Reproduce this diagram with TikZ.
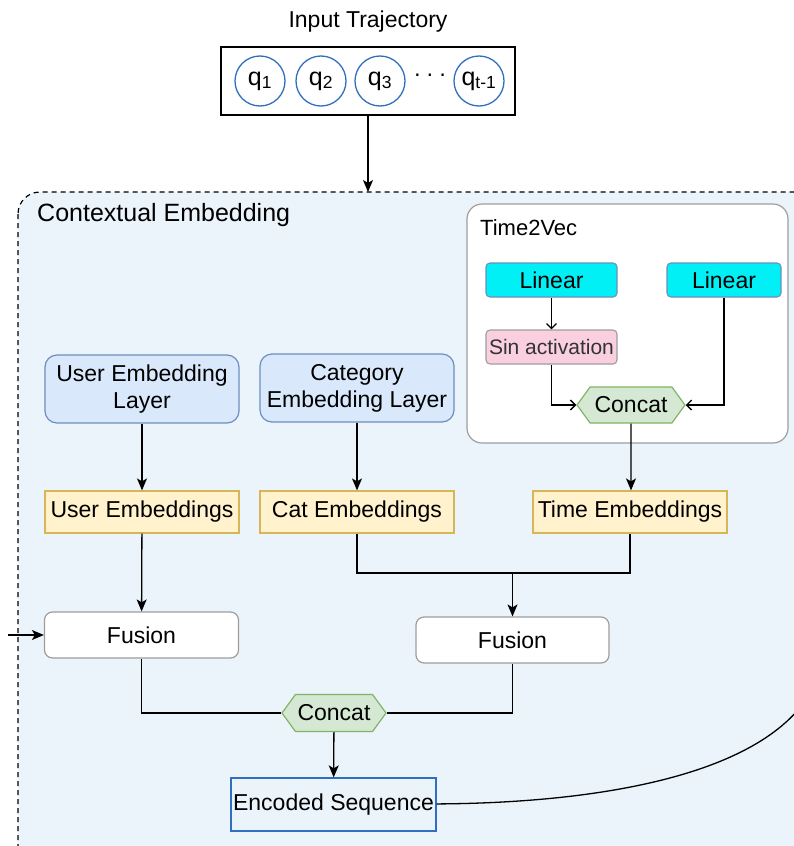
\documentclass[tikz,border=0pt]{standalone}
\usepackage{fontspec}
\setmainfont{Liberation Sans}
\usetikzlibrary{arrows.meta,shapes.symbols,calc}
\definecolor{ctxblue}{RGB}{235,244,251}
\definecolor{layerblue}{RGB}{218,232,252}
\definecolor{layeredge}{RGB}{108,142,191}
\definecolor{embyellow}{RGB}{255,242,204}
\definecolor{embedge}{RGB}{214,182,86}
\definecolor{catgreen}{RGB}{213,232,212}
\definecolor{catedge}{RGB}{130,179,102}
\definecolor{linearcyan}{RGB}{0,240,245}
\definecolor{sinpink}{RGB}{250,208,225}
\definecolor{boxgray}{RGB}{158,158,158}
\definecolor{seqblue}{RGB}{47,111,191}

\begin{document}
\begin{tikzpicture}[x=1pt, y=-1pt,
    every node/.style={font=\fontsize{23}{27}\selectfont, inner sep=0pt},
    line/.style={draw=black, line width=1.3pt},
    arr/.style={line, -{Stealth[length=12pt, width=10pt, inset=3pt]}},
    openarr/.style={line, -{Straight Barb[length=5pt, width=10pt]}},
    token/.style={circle, draw=seqblue, line width=1.3pt, fill=white, minimum size=50pt,
                  font=\fontsize{25}{29}\selectfont},
    layerbox/.style={draw=layeredge, line width=1.2pt, fill=layerblue, rounded corners=12pt,
                     minimum width=194pt, minimum height=68pt, align=center},
    embbox/.style={draw=embedge, line width=1.2pt, fill=embyellow,
                   minimum width=194pt, minimum height=42pt},
    fusionbox/.style={draw=boxgray, line width=1.2pt, fill=white, rounded corners=8pt,
                      minimum width=194pt, minimum height=46pt},
    linearbox/.style={draw=layeredge, line width=1.1pt, fill=linearcyan, rounded corners=4pt,
                      minimum height=34pt},
    concatbox/.style={signal, signal to=east and west, signal pointer angle=108,
                      draw=catedge, line width=1.2pt, fill=catgreen,
                      minimum width=108pt, minimum height=36pt}]
  \useasboundingbox (0,0) rectangle (794,846);
  \clip (0,0) rectangle (794,846);

  % input trajectory
  \node (intitle) at (368,22) {Input Trajectory};
  \node[draw=black, line width=1.3pt, fill=white, minimum width=294pt, minimum height=68pt]
    (inbox) at (368,81) {};
  \node[token] (q1) at (260,81) {q\textsubscript{1}};
  \node[token] (q2) at (321,81) {q\textsubscript{2}};
  \node[token] (q3) at (380,81) {q\textsubscript{3}};
  \node (qdots) at (430,78) {\textperiodcentered\hspace{5pt}\textperiodcentered\hspace{5pt}\textperiodcentered};
  \node[token] (qlast) at (479,81) {q\textsubscript{t-1}};

  % contextual embedding block
  \draw[draw=black, line width=1.2pt, dash pattern=on 5pt off 4pt, fill=ctxblue,
        rounded corners=22pt] (18,192) rectangle (860,920);
  \coordinate (ctxtop) at (368,192);
  \draw[arr] (inbox) -- (ctxtop);
  \node[anchor=west, font=\fontsize{25}{30}\selectfont] (ctxlabel) at (37,215) {Contextual Embedding};

  % time2vec
  \draw[draw=boxgray, line width=1.2pt, fill=white, rounded corners=15pt] (467,204) rectangle (788,443);
  \node[anchor=west, font=\fontsize{22}{26}\selectfont] (t2vlabel) at (480,228) {Time2Vec};
  \node[linearbox, minimum width=131pt] (lin1) at (551.5,280) {Linear};
  \node[linearbox, minimum width=114pt] (lin2) at (724,280) {Linear};
  \node[draw=boxgray, line width=1.1pt, fill=sinpink, rounded corners=4pt, minimum width=131pt,
        minimum height=34pt, text=black!80, font=\fontsize{21}{25}\selectfont] (sin) at (551.5,347) {Sin activation};
  \node[concatbox] (t2vcat) at (631,405) {Concat};
  \draw[openarr] (lin1) -- (sin);
  \draw[openarr] (sin) |- (t2vcat);
  \draw[openarr] (lin2) |- (t2vcat);

  % embedding layers
  \node[layerbox] (userlayer) at (142,389) {User Embedding\\Layer};
  \node[layerbox] (catlayer) at (357,388) {Category\\Embedding Layer};
  \node[embbox] (useremb) at (142,512) {User Embeddings};
  \node[embbox] (catemb) at (357,512) {Cat Embeddings};
  \node[embbox] (timeemb) at (630,512) {Time Embeddings};
  \draw[arr] (userlayer) -- (useremb);
  \draw[arr] (catlayer) -- (catemb);
  \draw[arr] (t2vcat) -- (t2vcat |- timeemb.north);

  % fusion
  \node[fusionbox] (fusion1) at (141.5,635) {Fusion};
  \node[fusionbox, minimum width=193pt] (fusion2) at (512.5,640) {Fusion};
  \coordinate (extin) at (8,635);
  \coordinate (join) at (512.5,573);
  \draw[arr] (extin) -- (fusion1);
  \draw[arr] (useremb) -- (fusion1);
  \draw[line] (catemb) |- (join) -| (timeemb);
  \draw[arr] (join) -- (fusion2);

  % output
  \node[concatbox, minimum width=104pt, minimum height=37pt] (outcat) at (334,713) {Concat};
  \node[draw=seqblue, line width=1.3pt, fill=ctxblue, minimum width=205pt, minimum height=53pt]
    (encoded) at (333.5,804.5) {Encoded Sequence};
  \draw[line] (fusion1) |- (outcat);
  \draw[line] (fusion2) |- (outcat);
  \draw[arr] (outcat) -- (encoded);
  \coordinate (curveend) at (812,690);
  \draw[line] (encoded) .. controls (600,803) and (765,775) .. (curveend);
\end{tikzpicture}
\end{document}
